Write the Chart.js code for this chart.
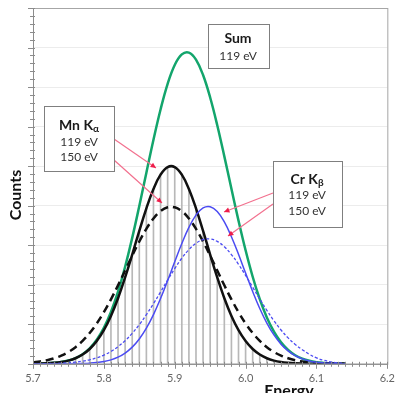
<!DOCTYPE html>
<html>
<head>
<meta charset="utf-8">
<script src="https://cdn.jsdelivr.net/npm/chart.js@4.4.1/dist/chart.umd.min.js"></script>
<style>
  body { margin: 0; background: #fff; }
  canvas { display: block; }
</style>
</head>
<body>
<canvas id="graph" width="395" height="393"></canvas>
<script>
'use strict';

// energy channels (keV), 10 eV apart
let energy = [5.70, 5.71, 5.72, 5.73, 5.74, 5.75, 5.76, 5.77, 5.78, 5.79,
  5.80, 5.81, 5.82, 5.83, 5.84, 5.85, 5.86, 5.87, 5.88, 5.89,
  5.90, 5.91, 5.92, 5.93, 5.94, 5.95, 5.96, 5.97, 5.98, 5.99,
  6.00, 6.01, 6.02, 6.03, 6.04, 6.05, 6.06, 6.07, 6.08, 6.09,
  6.10, 6.11, 6.12, 6.13, 6.14];

// Mn K-alpha, 119 eV resolution (solid black, also the channel bars)
let mnKa119 = [0.003, 0.006, 0.012, 0.024, 0.045, 0.081, 0.140, 0.234, 0.374, 0.576,
  0.852, 1.212, 1.659, 2.184, 2.763, 3.362, 3.933, 4.423, 4.784, 4.976,
  4.976, 4.784, 4.423, 3.933, 3.362, 2.763, 2.184, 1.659, 1.212, 0.852,
  0.576, 0.374, 0.234, 0.140, 0.081, 0.045, 0.024, 0.012, 0.006, 0.003,
  0.001, 0, 0, 0, 0];

// Mn K-alpha, 150 eV resolution (dashed black)
let mnKa150 = [0.037, 0.059, 0.091, 0.139, 0.206, 0.298, 0.420, 0.579, 0.778, 1.020,
  1.306, 1.630, 1.985, 2.359, 2.735, 3.093, 3.414, 3.676, 3.862, 3.958,
  3.958, 3.862, 3.676, 3.414, 3.093, 2.735, 2.359, 1.985, 1.630, 1.306,
  1.020, 0.778, 0.579, 0.420, 0.298, 0.206, 0.139, 0.091, 0.059, 0.037,
  0.022, 0.013, 0.008, 0.004, 0.002];

// Cr K-beta, 119 eV (solid blue)
let crKb119 = [0, 0, 0, 0, 0.001, 0.002, 0.004, 0.009, 0.017, 0.032,
  0.058, 0.100, 0.168, 0.272, 0.422, 0.629, 0.902, 1.245, 1.650, 2.105,
  2.581, 3.043, 3.450, 3.761, 3.942, 3.973, 3.850, 3.588, 3.215, 2.770,
  2.295, 1.828, 1.400, 1.031, 0.730, 0.497, 0.326, 0.205, 0.124, 0.072,
  0.040, 0.022, 0.011, 0.006, 0.003];

// Cr K-beta, 150 eV (dashed blue)
let crKb150 = [0.002, 0.003, 0.006, 0.010, 0.016, 0.026, 0.043, 0.067, 0.102, 0.152,
  0.220, 0.313, 0.433, 0.585, 0.771, 0.991, 1.243, 1.522, 1.817, 2.118,
  2.407, 2.670, 2.889, 3.049, 3.141, 3.157, 3.095, 2.961, 2.763, 2.516,
  2.235, 1.938, 1.639, 1.352, 1.089, 0.855, 0.655, 0.490, 0.357, 0.240,
  0.150, 0.090, 0.050, 0.025, 0.010];

// Sum at 119 eV (green)
let sum119 = [0.003, 0.006, 0.012, 0.024, 0.045, 0.083, 0.144, 0.243, 0.391, 0.608,
  0.910, 1.312, 1.827, 2.456, 3.185, 3.991, 4.835, 5.668, 6.434, 7.081,
  7.557, 7.827, 7.873, 7.694, 7.304, 6.736, 6.034, 5.247, 4.427, 3.622,
  2.871, 2.202, 1.634, 1.171, 0.811, 0.542, 0.350, 0.217, 0.130, 0.075,
  0.041, 0.022, 0.011, 0.006, 0.003];

let xTicks = [5.7, 5.8, 5.9, 6.0, 6.1, 6.2];

function toPoints(values) {
  return energy.map((e, i) => ({ x: e, y: values[i] }));
}

function lineSet(values, color, width, dash) {
  return {
    type: 'line',
    data: toPoints(values),
    borderColor: color,
    borderWidth: width,
    borderDash: dash,
    pointRadius: 0,
    tension: 0.4,
    fill: false,
    order: 1
  };
}

function drawBox(ctx, x, y, w, h) {
  ctx.fillStyle = '#fff';
  ctx.fillRect(x, y, w, h);
  ctx.strokeStyle = '#7f7f7f';
  ctx.lineWidth = 1;
  ctx.strokeRect(x + 0.5, y + 0.5, w, h);
}

function drawArrow(ctx, x1, y1, x2, y2) {
  ctx.strokeStyle = '#f2708e';
  ctx.lineWidth = 1.2;
  ctx.beginPath();
  ctx.moveTo(x1, y1);
  ctx.lineTo(x2, y2);
  ctx.stroke();
  let a = Math.atan2(y2 - y1, x2 - x1);
  ctx.fillStyle = '#ee1d4a';
  ctx.beginPath();
  ctx.moveTo(x2, y2);
  ctx.lineTo(x2 - 6 * Math.cos(a - 0.45), y2 - 6 * Math.sin(a - 0.45));
  ctx.lineTo(x2 - 6 * Math.cos(a + 0.45), y2 - 6 * Math.sin(a + 0.45));
  ctx.closePath();
  ctx.fill();
}

// label with a greek subscript: "Mn K" + alpha
function drawSubLabel(ctx, main, sub, cx, cy) {
  ctx.font = 'bold 14px Lato';
  let w1 = ctx.measureText(main).width;
  ctx.font = 'bold 10px Lato';
  let w2 = ctx.measureText(sub).width;
  let left = cx - (w1 + w2) / 2;
  ctx.textAlign = 'left';
  ctx.textBaseline = 'middle';
  ctx.fillStyle = '#1a1a1a';
  ctx.font = 'bold 14px Lato';
  ctx.fillText(main, left, cy);
  ctx.font = 'bold 10px Lato';
  ctx.fillText(sub, left + w1, cy + 4);
}

function smallText(ctx, text, cx, cy) {
  ctx.font = '12px Lato';
  ctx.textAlign = 'center';
  ctx.textBaseline = 'middle';
  ctx.fillStyle = '#333';
  ctx.fillText(text, cx, cy);
}

let decorations = {
  id: 'decorations',
  afterDatasetsDraw(chart) {
    let ctx = chart.ctx;
    let area = chart.chartArea;
    let xs = chart.scales.x;
    let ys = chart.scales.y;
    ctx.save();

    // frame
    ctx.strokeStyle = '#a6a6a6';
    ctx.lineWidth = 1;
    ctx.strokeRect(area.left + 0.5, area.top + 0.5, area.right - area.left, area.bottom - area.top);
    ctx.strokeStyle = '#8c8c8c';
    ctx.beginPath();
    ctx.moveTo(area.left + 0.5, area.top);
    ctx.lineTo(area.left + 0.5, area.bottom + 0.5);
    ctx.lineTo(area.right, area.bottom + 0.5);
    ctx.stroke();

    // minor and major ticks on y
    ctx.beginPath();
    for (let v = 0; v <= 9.001; v += 0.2) {
      let py = Math.round(ys.getPixelForValue(v)) + 0.5;
      let major = Math.abs(v - Math.round(v)) < 0.01;
      ctx.moveTo(area.left - (major ? 5 : 3), py);
      ctx.lineTo(area.left + 2, py);
    }
    // minor and major ticks on x
    for (let e = 5.7; e <= 6.2001; e += 0.01) {
      let px = Math.round(xs.getPixelForValue(e)) + 0.5;
      let major = Math.abs(e * 10 - Math.round(e * 10)) < 0.01;
      ctx.moveTo(px, area.bottom - 2);
      ctx.lineTo(px, area.bottom + (major ? 5 : 3));
    }
    ctx.stroke();

    // axis titles
    ctx.fillStyle = '#111';
    ctx.font = 'bold 16px Lato';
    ctx.textAlign = 'center';
    ctx.textBaseline = 'alphabetic';
    ctx.fillText('Energy', 289, 396);
    ctx.save();
    ctx.translate(21, 195);
    ctx.rotate(-Math.PI / 2);
    ctx.fillText('Counts', 0, 0);
    ctx.restore();

    // arrows
    drawArrow(ctx, 114, 139, 156, 168);
    drawArrow(ctx, 114, 160, 162, 203);
    drawArrow(ctx, 273, 193, 224, 212);
    drawArrow(ctx, 273, 204, 228, 236);

    // Sum box
    drawBox(ctx, 208, 24, 61, 44);
    ctx.fillStyle = '#1a1a1a';
    ctx.font = 'bold 14px Lato';
    ctx.textAlign = 'center';
    ctx.textBaseline = 'middle';
    ctx.fillText('Sum', 238, 38);
    smallText(ctx, '119 eV', 238, 56);

    // Mn K-alpha box
    drawBox(ctx, 44, 106, 70, 65);
    drawSubLabel(ctx, 'Mn K', 'α', 79, 125);
    smallText(ctx, '119 eV', 79, 142);
    smallText(ctx, '150 eV', 79, 157);

    // Cr K-beta box
    drawBox(ctx, 273, 161, 69, 66);
    drawSubLabel(ctx, 'Cr K', 'β', 307, 179);
    smallText(ctx, '119 eV', 307, 195);
    smallText(ctx, '150 eV', 307, 211);

    ctx.restore();
  }
};

const ctx = document.getElementById('graph').getContext('2d');
let graph = new Chart(ctx, { //eslint-disable-line
  type: 'line',
  data: {
    datasets: [
      {
        type: 'bar',
        data: toPoints(mnKa119),
        backgroundColor: '#b8b8b8',
        barThickness: 1,
        order: 5
      },
      lineSet(crKb150, '#4b4bf2', 1.3, [3, 2]),
      lineSet(crKb119, '#4b4bf2', 1.5, []),
      lineSet(mnKa150, '#111', 2.5, [8, 5]),
      lineSet(mnKa119, '#111', 2.5, []),
      lineSet(sum119, '#13a56c', 2.5, [])
    ]
  },
  options: {
    responsive: false,
    animation: false,
    devicePixelRatio: 1,
    layout: { padding: { left: 33, top: 8, right: 0, bottom: 8 } },
    plugins: { legend: { display: false }, tooltip: { enabled: false } },
    scales: {
      x: {
        type: 'linear',
        min: 5.7,
        max: 6.2,
        offset: false,
        afterBuildTicks: axis => { axis.ticks = xTicks.map(v => ({ value: v })); },
        ticks: {
          callback: v => v.toFixed(1),
          color: '#666',
          font: { family: 'Lato', size: 11 },
          padding: 0,
          maxRotation: 0
        },
        grid: {
          display: true,
          drawOnChartArea: false,
          drawTicks: true,
          tickLength: 8,
          tickColor: 'rgba(0,0,0,0)'
        },
        border: { display: false }
      },
      y: {
        min: 0,
        max: 9,
        ticks: { display: false, stepSize: 1 },
        grid: { color: '#ececec', drawTicks: false },
        border: { display: false }
      }
    }
  },
  plugins: [decorations]
});
</script>
</body>
</html>
